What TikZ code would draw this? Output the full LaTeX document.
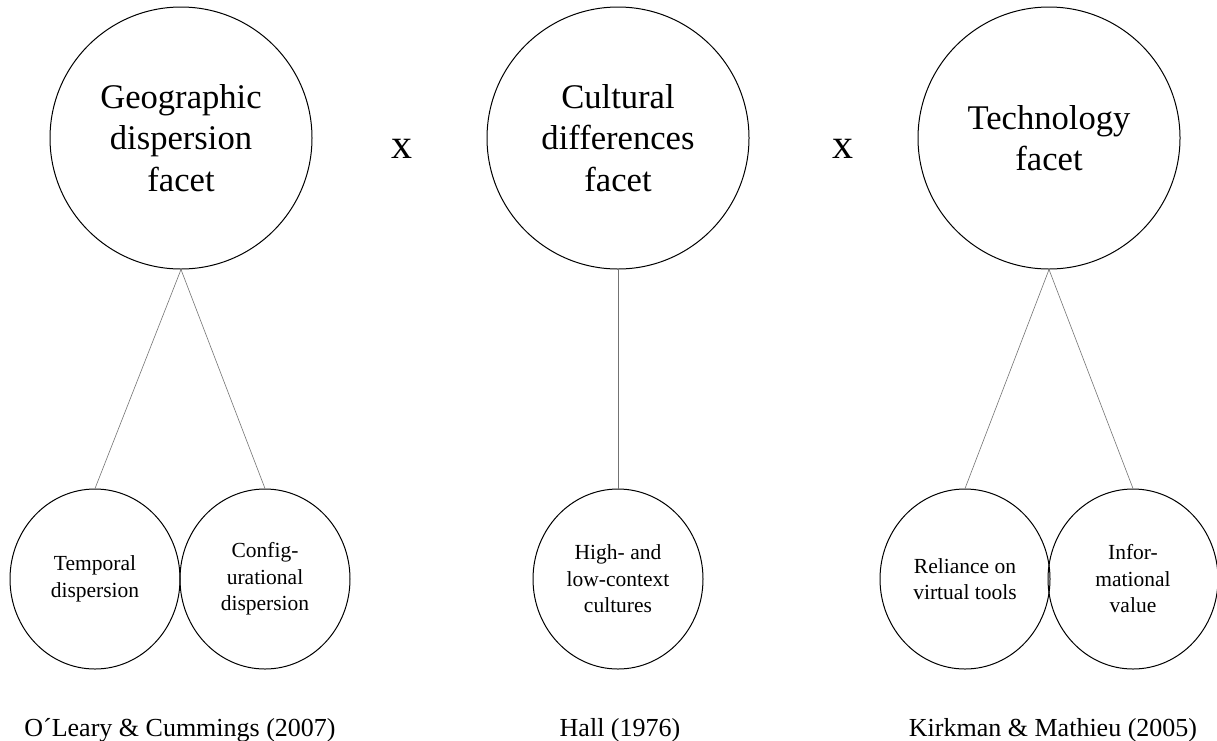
\documentclass[tikz,border=0pt]{standalone}
\usepackage{fontspec}
\setmainfont{Liberation Serif}
\usetikzlibrary{shapes.geometric}
\begin{document}
\begin{tikzpicture}[x=1pt,y=-1pt,
  facet/.style={draw, circle, line width=1pt, minimum size=262pt, inner sep=0pt, align=center,
    font=\fontsize{34.6}{41.5}\selectfont},
  sub/.style={draw, ellipse, line width=1pt, minimum width=170pt, minimum height=180pt, inner sep=0pt,
    align=center, font=\fontsize{21.5}{26.5}\selectfont},
  link/.style={draw=black!55, line width=0.6pt},
  src/.style={anchor=base, font=\fontsize{26}{30}\selectfont},
  times/.style={anchor=base, font=\fontsize{42}{42}\selectfont}]
  \useasboundingbox (0,0) rectangle (1217,740);

  % facets
  \node[facet] (geo) at (181,138) {Geographic\\dispersion\\facet};
  \node[facet] (cult) at (618,138) {Cultural\\differences\\facet};
  \node[facet] (tech) at (1049,138) {Technology\\facet};

  \node[times] (x1) at (402,158) {x};
  \node[times] (x2) at (843,158) {x};

  % sub-facets
  \node[sub] (temp) at (95,579) {Temporal\\dispersion};
  \node[sub] (config) at (265,579) {Config-\\urational\\dispersion};
  \node[sub] (context) at (618,579) {High- and\\low-context\\cultures};
  \node[sub] (reliance) at (965,579) {Reliance on\\virtual tools};
  \node[sub] (info) at (1133,579) {Infor-\\mational\\value};

  \draw[link] (geo.south) -- (temp.north);
  \draw[link] (geo.south) -- (config.north);
  \draw[link] (cult.south) -- (context.north);
  \draw[link] (tech.south) -- (reliance.north);
  \draw[link] (tech.south) -- (info.north);

  % sources
  \node[src] (srcgeo) at (180,736) {O´Leary \& Cummings (2007)};
  \node[src] (srccult) at (620,736) {Hall (1976)};
  \node[src] (srctech) at (1053,736) {Kirkman \& Mathieu (2005)};
\end{tikzpicture}
\end{document}
